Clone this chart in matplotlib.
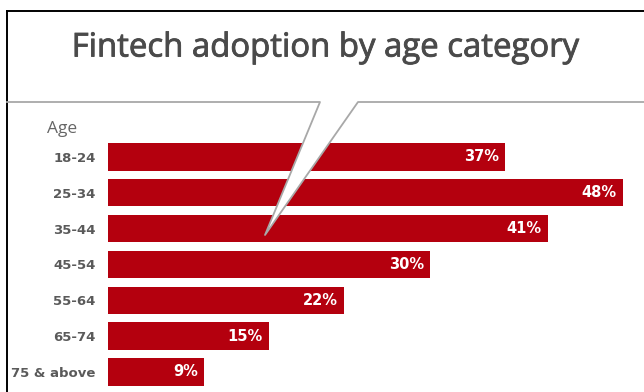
import matplotlib.pyplot as plt
import matplotlib.patheffects as pe
from matplotlib.lines import Line2D
from matplotlib.patches import Polygon

# data
ages = ["18-24", "25-34", "35-44", "45-54", "55-64", "65-74", "75 & above"]
adoption = [37, 48, 41, 30, 22, 15, 9]
title = "Fintech adoption by age category"

W, H = 644, 392
bar_color = "#b4000e"
text_gray = "#4a4a4a"

def px(x, y):
    # pixel coords (top-left origin) -> figure fraction
    return x / W, 1 - y / H

fig = plt.figure(figsize=(W / 100, H / 100), dpi=100)
fig.patch.set_facecolor("white")

# bar area
ax = fig.add_axes([108 / W, 0, (W - 108) / W, 262 / H])
ax.barh(range(len(ages)), adoption, height=0.76, color=bar_color, zorder=2)
ax.set_xlim(0, (W - 108) / 10.72)
ax.set_ylim(6.56, -0.75)
ax.set_yticks(range(len(ages)))
ax.set_yticklabels(ages, fontsize=9.5, color="#5a5a5a", fontweight="bold",
                   family="DejaVu Sans")
ax.tick_params(axis="y", length=0, pad=9)
ax.set_xticks([])
for s in ax.spines.values():
    s.set_visible(False)

for i, v in enumerate(adoption):
    ax.text(v - 0.55, i, f"{v}%", ha="right", va="center", color="white",
            fontsize=10.5, fontweight="bold", family="DejaVu Sans", zorder=3)

# title and column header
t = fig.text(*px(325, 48), title, ha="center", va="center", fontsize=23.7,
             color=text_gray, family="Open Sans")
t.set_path_effects([pe.Stroke(linewidth=0.6, foreground=text_gray), pe.Normal()])
fig.text(*px(62, 129), "Age", ha="center", va="center", fontsize=12.5,
         color="#666666", family="Open Sans")

# frame lines
fig.add_artist(Line2D([px(7, 0)[0], 1], [px(0, 11)[1]] * 2, color="black", lw=1.4))
fig.add_artist(Line2D([px(7, 0)[0]] * 2, [px(0, 11)[1], 0], color="black", lw=1.4))

# speech bubble pointer
tip = (265, 235)
left_top = (320, 102)
right_top = (358, 102)
wedge = Polygon([px(*left_top), px(*tip), px(*right_top)], closed=True,
                facecolor="white", edgecolor="none", transform=fig.transFigure, zorder=5)
fig.add_artist(wedge)
xs = [7, left_top[0], tip[0], right_top[0], W]
ys = [102, left_top[1], tip[1], right_top[1], 102]
fx = [x / W for x in xs]
fy = [1 - y / H for y in ys]
fig.add_artist(Line2D(fx, fy, color="#a8a8a8", lw=1.3, zorder=6))

fig.savefig("out.png", dpi=100, facecolor="white")
